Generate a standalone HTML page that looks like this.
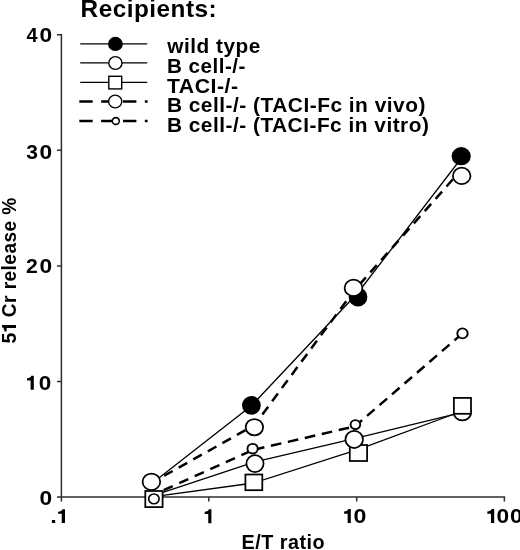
<!DOCTYPE html>
<html><head><meta charset="utf-8"><title>51 Cr release</title>
<style>
html,body{margin:0;padding:0;background:#fff;}
body{width:520px;height:550px;overflow:hidden;}
svg{display:block;will-change:transform;}
text{font-family:"Liberation Sans",sans-serif;font-weight:bold;fill:#000;letter-spacing:0.5px;}
</style></head><body>
<svg width="520" height="550" viewBox="0 0 520 550">
<rect x="0" y="0" width="520" height="550" fill="#fff"/>

<!-- title -->
<text x="80.6" y="16.5" font-size="24.3" textLength="136.6" lengthAdjust="spacingAndGlyphs">Recipients:</text>

<!-- axes -->
<g stroke="#2e2e2e" stroke-width="1.5" fill="none">
<path d="M57,34.8 H61.4 V501.4"/>
<path d="M57,150.35 H61.4 M57,265.9 H61.4 M57,381.45 H61.4"/>
<path d="M57,497 H504.4 V501.4"/>
<path d="M208.8,497 V501.4 M356.7,497 V501.4"/>
</g>

<!-- y labels -->
<g font-size="20.0" style="letter-spacing:0" fill="#000">
<text transform="translate(26.40,42.30) scale(1.000,0.985)">4</text><text transform="translate(39.39,42.30) scale(1.137,0.975)">0</text>
<text transform="translate(26.17,158.80) scale(1.051,1.035)">3</text><text transform="translate(39.39,158.80) scale(1.137,1.035)">0</text>
<text transform="translate(26.06,272.90) scale(1.062,1.000)">2</text><text transform="translate(39.39,272.90) scale(1.137,1.000)">0</text>
<path transform="translate(27.00,375.80) scale(1.000,1.029)" d="M6.8,0 L6.8,13.6 L3.6,13.6 L3.6,4.5 L0,4.5 L0,2.4 C2.3,2.4 3.9,1.6 4.3,0 Z"/><text transform="translate(38.80,389.90) scale(1.126,1.014)">0</text>
<text transform="translate(39.39,504.50) scale(1.137,1.021)">0</text>
<!-- x labels -->
<text transform="translate(50.25,523.10) scale(1.179,1.033)">.</text><path transform="translate(58.10,509.20) scale(1.015,1.022)" d="M6.8,0 L6.8,13.6 L3.6,13.6 L3.6,4.5 L0,4.5 L0,2.4 C2.3,2.4 3.9,1.6 4.3,0 Z"/>
<path transform="translate(204.70,509.30) scale(0.985,1.022)" d="M6.8,0 L6.8,13.6 L3.6,13.6 L3.6,4.5 L0,4.5 L0,2.4 C2.3,2.4 3.9,1.6 4.3,0 Z"/>
<path transform="translate(344.10,509.00) scale(0.985,1.029)" d="M6.8,0 L6.8,13.6 L3.6,13.6 L3.6,4.5 L0,4.5 L0,2.4 C2.3,2.4 3.9,1.6 4.3,0 Z"/><text transform="translate(353.57,523.00) scale(1.158,1.000)">0</text>
<path transform="translate(487.30,509.00) scale(1.015,1.029)" d="M6.8,0 L6.8,13.6 L3.6,13.6 L3.6,4.5 L0,4.5 L0,2.4 C2.3,2.4 3.9,1.6 4.3,0 Z"/><text transform="translate(496.39,523.00) scale(1.137,0.993)">0</text><text transform="translate(509.89,523.00) scale(1.137,0.993)">0</text>
</g>
<g font-size="20.8">
<text x="241.5" y="548.5" textLength="83.5" lengthAdjust="spacingAndGlyphs">E/T ratio</text>
<g transform="translate(16,343.5) rotate(-90)">
<g style="letter-spacing:0" font-size="20.0"><text transform="translate(0.01,0.00) scale(0.980,1.014)">5</text><path transform="translate(12.00,-14.00) scale(0.971,1.029)" d="M6.8,0 L6.8,13.6 L3.6,13.6 L3.6,4.5 L0,4.5 L0,2.4 C2.3,2.4 3.9,1.6 4.3,0 Z"/></g>
<text x="26.3" y="0" textLength="120" lengthAdjust="spacingAndGlyphs">Cr release %</text>
</g>
</g>

<!-- legend -->
<g stroke="#000" fill="none">
<path d="M80.2,43.9 H147.2 M80.2,62.8 H147.2 M80.2,82.3 H147.2" stroke-width="1.35"/>
<path d="M79.3,101.4 H147.6 M79.3,120.9 H147.6" stroke-width="2.5" stroke-dasharray="13.4 8.45"/>
<ellipse cx="115.4" cy="43.9" rx="7.4" ry="7.1" fill="#000" stroke="none"/>
<ellipse cx="115.4" cy="63.0" rx="6.6" ry="6.4" fill="#fff" stroke-width="1.4"/>
<rect x="108.8" y="76.3" width="12.9" height="12.6" fill="#fff" stroke-width="1.4"/>
<ellipse cx="115.2" cy="101.5" rx="6.6" ry="6.4" fill="#fff" stroke-width="1.4"/>
<ellipse cx="115.8" cy="121" rx="3.5" ry="3.4" fill="#fff" stroke-width="1.6"/>
</g>
<g font-size="20.7">
<text x="167.3" y="53.2" textLength="93.5" lengthAdjust="spacingAndGlyphs">wild type</text>
<text x="166.9" y="72.6" textLength="79" lengthAdjust="spacingAndGlyphs">B cell-/-</text>
<text x="166.9" y="92.5" textLength="71.6" lengthAdjust="spacingAndGlyphs">TACI-/-</text>
<text x="166.9" y="112.1" textLength="259" lengthAdjust="spacingAndGlyphs">B cell-/- (TACI-Fc in vivo)</text>
<text x="166.9" y="131.5" textLength="262.5" lengthAdjust="spacingAndGlyphs">B cell-/- (TACI-Fc in vitro)</text>
</g>

<!-- data -->
<g stroke="#000" fill="none" stroke-width="1.3">
<!-- wild type -->
<polyline points="151.2,484.1 251.4,405.7 358.1,292.5 461.1,158.5"/>
<!-- B cell -/- -->
<polyline points="153.8,495.3 255,461.8 354.2,438.7 462.4,412.3"/>
<!-- TACI -/- -->
<polyline points="153.8,496.7 253.8,483.0 358.5,449.3 462.4,411"/>
<!-- in vivo -->
<g stroke-width="2.5">
<line x1="151.2" y1="483" x2="254.4" y2="425.2" stroke-dasharray="9.8 6.9" stroke-dashoffset="1.9"/>
<line x1="254.4" y1="425.2" x2="353.4" y2="291.5" stroke-dasharray="9.7 6.7" stroke-dashoffset="3.0"/>
<line x1="353.4" y1="291.5" x2="461.6" y2="169.5" stroke-dasharray="9.7 6.7" stroke-dashoffset="7.3"/>
</g>
<!-- in vitro -->
<g stroke-width="2.5">
<line x1="153.7" y1="494.7" x2="252.8" y2="450.0" stroke-dasharray="10 7.06" stroke-dashoffset="6.15"/>
<line x1="252.8" y1="450.0" x2="355" y2="426.3" stroke-dasharray="10.7 6.7" stroke-dashoffset="16.22"/>
<line x1="355" y1="426.3" x2="462.5" y2="333.4" stroke-dasharray="10 6.5" stroke-dashoffset="0.6"/>
</g>
</g>

<g stroke="#000" stroke-width="1.75" fill="#fff">
<!-- wild type markers -->
<ellipse cx="251.4" cy="405.3" rx="9.4" ry="9.4" fill="#000" stroke="none"/>
<ellipse cx="358.0" cy="297.0" rx="9.4" ry="9.4" fill="#000" stroke="none"/>
<ellipse cx="461.2" cy="156.2" rx="9.55" ry="9.1" fill="#000" stroke="none"/>
<!-- B cell markers (x=2, x=50) -->
<ellipse cx="255" cy="463.6" rx="8.6" ry="8.5"/>
<ellipse cx="462.4" cy="412.3" rx="8.7" ry="8.2"/>
<!-- TACI squares -->
<rect x="145.3" y="491.0" width="17.3" height="16.1"/>
<rect x="245.4" y="474.5" width="16.9" height="15.7"/>
<rect x="349.8" y="445" width="17.3" height="16.0"/>
<rect x="453.9" y="397.9" width="17.1" height="15.9"/>
<!-- B cell marker x=10 over square -->
<ellipse cx="354.2" cy="439.4" rx="8.8" ry="8.6"/>
<!-- in vivo -->
<ellipse cx="151.4" cy="481.8" rx="8.8" ry="8.3"/>
<ellipse cx="254.4" cy="427.2" rx="8.7" ry="8.2"/>
<ellipse cx="353.5" cy="287.9" rx="8.9" ry="8.2"/>
<ellipse cx="461.7" cy="175.9" rx="8.8" ry="8.2"/>
<!-- in vitro -->
<g stroke-width="1.9">
<ellipse cx="153.9" cy="498.9" rx="5.2" ry="4.9" stroke-width="1.6"/>
<ellipse cx="252.6" cy="448.7" rx="5.1" ry="4.8"/>
<ellipse cx="355.4" cy="424.6" rx="4.8" ry="4.5"/>
<ellipse cx="462.5" cy="333.4" rx="5.2" ry="5"/>
</g>
</g>
</svg>
</body></html>
